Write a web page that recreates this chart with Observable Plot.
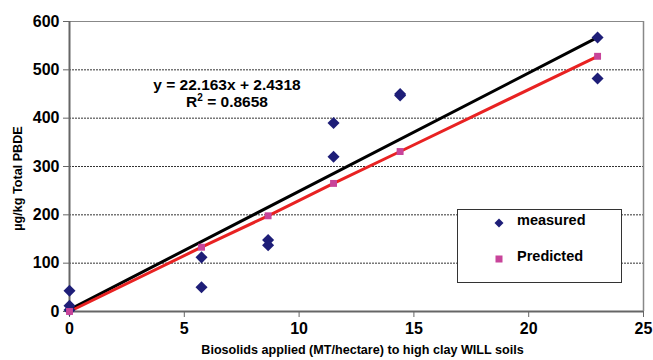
<!DOCTYPE html>
<html><head><meta charset="utf-8">
<script src="https://cdn.jsdelivr.net/npm/d3@7"></script>
<script src="https://cdn.jsdelivr.net/npm/@observablehq/plot@0.6"></script>
<style>
body{margin:0;background:#fff;font-family:"Liberation Sans",Arial,sans-serif;}
#wrap{position:relative;width:653px;height:360px;}
.eq{position:absolute;font-weight:bold;font-size:15.5px;text-align:center;line-height:17px;color:#000;}
.legend{position:absolute;background:#fff;border:1px solid #333;font-weight:bold;font-size:14.5px;}
.legend .row{position:absolute;left:0;display:flex;align-items:center;}
</style></head>
<body><div id="wrap"></div>
<script>
// measured values
const measuredX = [0, 0, 0, 5.75, 5.75, 8.65, 8.65, 11.5, 11.5, 14.4, 14.4, 23, 23];
const measuredY = [43, 12, 3, 112, 50, 148, 137, 390, 320, 450, 447, 567, 482];
// predicted values
const predictedX = [0, 5.75, 8.65, 11.5, 14.4, 23];
const predictedY = [0, 133, 198, 265, 331, 528];
// linear trend line of measured (as drawn)
const trendX = [0, 23];
const trendY = [4, 567];
const xTicks = [0, 5, 10, 15, 20, 25];
const yTicks = [0, 100, 200, 300, 400, 500, 600];
const gridY = [100, 200, 300, 400, 500];
const eqLines = ["y = 22.163x + 2.4318", "R² = 0.8658"];
const seriesNames = ["measured", "Predicted"];

const measured = measuredX.map((x, i) => ({x, y: measuredY[i]}));
const predicted = predictedX.map((x, i) => ({x, y: predictedY[i]}));
const trend = trendX.map((x, i) => ({x, y: trendY[i]}));

const navy = "#1e1e78", pink = "#c8449a", red = "#e82222";

const chart = Plot.plot({
  width: 653, height: 360,
  marginLeft: 69, marginRight: 10, marginTop: 21, marginBottom: 49,
  style: {fontFamily: "'Liberation Sans', Arial, sans-serif", fontWeight: "bold", fontSize: "16px", color: "#000", background: "#fff"},
  x: {domain: [0, 25]},
  y: {domain: [0, 600]},
  marks: [
    Plot.ruleY(gridY, {stroke: "#333", strokeWidth: 1, strokeDasharray: "2,1"}),
    Plot.ruleY([600], {stroke: "#888", strokeWidth: 1}),
    Plot.ruleX([25], {stroke: "#888", strokeWidth: 1.5}),
    Plot.axisX({ticks: xTicks, tickSize: 6, tickPadding: 5, stroke: "#666", fill: "#000", label: "Biosolids applied (MT/hectare) to high clay WILL soils", labelArrow: "none", labelAnchor: "center", labelOffset: 42}),
    Plot.axisY({ticks: yTicks, tickSize: 6, tickPadding: 4, stroke: "#666", fill: "#000", label: "µg/kg Total PBDE", labelArrow: "none", labelAnchor: "center", labelOffset: 56}),
    Plot.ruleX([0], {stroke: "#666", strokeWidth: 2}),
    Plot.ruleY([0], {stroke: "#666", strokeWidth: 2}),
    Plot.line(trend, {x: "x", y: "y", stroke: "#000", strokeWidth: 3}),
    Plot.line(predicted, {x: "x", y: "y", stroke: red, strokeWidth: 3}),
    Plot.dot(measured, {x: "x", y: "y", symbol: "square", rotate: 45, r: 4.8, fill: navy, stroke: "none"}),
    Plot.dot(predicted, {x: "x", y: "y", symbol: "square", r: 3.9, fill: pink, stroke: "none"})
  ]
});
const wrap = document.getElementById("wrap");
wrap.appendChild(chart);
chart.querySelectorAll("text").forEach(t => {
  const s = t.textContent.trim();
  if (/^\d+$/.test(s)) {
    t.style.setProperty("font-size", "16px", "important");
  } else {
    t.style.setProperty("font-size", "12.6px", "important");
    t.textContent = s.replace(/\s*[→↑←↓]\s*/g, "");
    if (s.startsWith("Biosolids")) t.setAttribute("dx", "6");
    else t.setAttribute("dx", "-12");
  }
});

const eq = document.createElement("div");
eq.className = "eq";
eq.style.left = "137px"; eq.style.top = "76px"; eq.style.width = "180px";
eq.innerHTML = eqLines.map(s => s.replace("²", "<sup style='font-size:10px;line-height:0'>2</sup>")).join("<br>");
wrap.appendChild(eq);

const lg = document.createElement("div");
lg.className = "legend";
lg.style.left = "457px"; lg.style.top = "209px"; lg.style.width = "163px"; lg.style.height = "72px";
const sym = [
  `<svg width="10" height="10"><rect x="1.8" y="1.8" width="6.4" height="6.4" fill="${navy}" transform="rotate(45 5 5)"/></svg>`,
  `<svg width="10" height="10"><rect x="1.5" y="1.5" width="7" height="7" fill="${pink}"/></svg>`
];
seriesNames.forEach((n, i) => {
  const r = document.createElement("div");
  r.className = "row";
  r.style.top = (i === 0 ? 1 : 37) + "px";
  r.style.height = "18px";
  r.innerHTML = `<span style="display:inline-block;width:10px;height:10px;margin-left:36px">${sym[i]}</span><span style="margin-left:13px">${n}</span>`;
  lg.appendChild(r);
});
wrap.appendChild(lg);
</script></body></html>
